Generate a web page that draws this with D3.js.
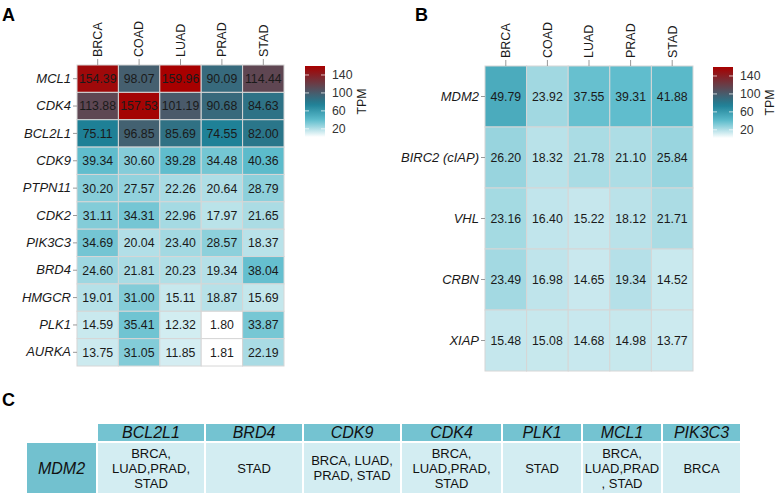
<!DOCTYPE html>
<html>
<head>
<meta charset="utf-8">
<script src="https://cdn.jsdelivr.net/npm/d3@7"></script>
<style>
  body { margin: 0; background: #fff; }
  text { font-family: "Liberation Sans", Arial, sans-serif; }
</style>
</head>
<body>
<script>
// data
var cancers = ["BRCA", "COAD", "LUAD", "PRAD", "STAD"];

var genesA = ["MCL1", "CDK4", "BCL2L1", "CDK9", "PTPN11", "CDK2", "PIK3C3", "BRD4", "HMGCR", "PLK1", "AURKA"];
var tpmA = [
  [154.39, 98.07, 159.96, 90.09, 114.44],
  [113.88, 157.53, 101.19, 90.68, 84.63],
  [75.11, 96.85, 85.69, 74.55, 82.00],
  [39.34, 30.60, 39.28, 34.48, 40.36],
  [30.20, 27.57, 22.26, 20.64, 28.79],
  [31.11, 34.31, 22.96, 17.97, 21.65],
  [34.69, 20.04, 23.40, 28.57, 18.37],
  [24.60, 21.81, 20.23, 19.34, 38.04],
  [19.01, 31.00, 15.11, 18.87, 15.69],
  [14.59, 35.41, 12.32, 1.80, 33.87],
  [13.75, 31.05, 11.85, 1.81, 22.19]
];

var genesB = ["MDM2", "BIRC2 (cIAP)", "VHL", "CRBN", "XIAP"];
var tpmB = [
  [49.79, 23.92, 37.55, 39.31, 41.88],
  [26.20, 18.32, 21.78, 21.10, 25.84],
  [23.16, 16.40, 15.22, 18.12, 21.71],
  [23.49, 16.98, 14.65, 19.34, 14.52],
  [15.48, 15.08, 14.68, 14.98, 13.77]
];

var legendTicks = [20, 60, 100, 140];
var tpmMin = 1.8, tpmMax = 160;

var tableRowGene = "MDM2";
var tablePartners = ["BCL2L1", "BRD4", "CDK9", "CDK4", "PLK1", "MCL1", "PIK3C3"];
var tableCancers = [
  ["BRCA,", "LUAD,PRAD,", "STAD"],
  ["STAD"],
  ["BRCA, LUAD,", "PRAD, STAD"],
  ["BRCA,", "LUAD,PRAD,", "STAD"],
  ["STAD"],
  ["BRCA,", "LUAD,PRAD", ", STAD"],
  ["BRCA"]
];

var width = 780, height = 494;

var svg = d3.select("body").append("svg")
    .attr("width", width)
    .attr("height", height);

var color = d3.scaleLinear()
    .domain([tpmMin, 40, 75, 100, tpmMax])
    .range(["#ffffff", "#5dbccc", "#1e8096", "#485c6c", "#a80000"])
    .clamp(true);

function panelLabel(t, x, y) {
  svg.append("text")
      .attr("x", x).attr("y", y)
      .attr("font-size", 18)
      .attr("font-weight", "bold")
      .attr("fill", "#000")
      .text(t);
}

function heatmap(genes, values, xr, yr) {
  var x = d3.scaleBand().domain(cancers).range(xr);
  var y = d3.scaleBand().domain(genes).range(yr);
  var g = svg.append("g");

  var cells = [];
  genes.forEach(function(gene, i) {
    cancers.forEach(function(c, j) {
      cells.push({gene: gene, cancer: c, v: values[i][j]});
    });
  });

  g.selectAll("rect")
    .data(cells).enter()
    .append("rect")
    .attr("x", function(d) { return x(d.cancer); })
    .attr("y", function(d) { return y(d.gene); })
    .attr("width", x.bandwidth())
    .attr("height", y.bandwidth())
    .attr("fill", function(d) { return color(d.v); })
    .attr("stroke", "#d6d6d6")
    .attr("stroke-width", 1);

  g.selectAll("text.val")
    .data(cells).enter()
    .append("text")
    .attr("class", "val")
    .attr("x", function(d) { return x(d.cancer) + x.bandwidth() / 2; })
    .attr("y", function(d) { return y(d.gene) + y.bandwidth() / 2; })
    .attr("dy", "0.36em")
    .attr("text-anchor", "middle")
    .attr("font-size", 12.3)
    .attr("fill", "#1a1a1a")
    .text(function(d) { return d.v.toFixed(2); });

  // gene names on the left, italic
  var yAxis = g.append("g")
      .attr("transform", "translate(" + xr[0] + ",0)")
      .call(d3.axisLeft(y).tickSize(4).tickPadding(2));
  yAxis.select(".domain").remove();
  yAxis.selectAll("line").attr("stroke", "#999");
  yAxis.selectAll("text")
      .attr("font-size", 13)
      .attr("font-style", "italic")
      .attr("font-family", "Liberation Sans, Arial, sans-serif")
      .attr("fill", "#1a1a1a");

  // cancer types on top, turned upright
  var xAxis = g.append("g")
      .attr("transform", "translate(0," + yr[0] + ")")
      .call(d3.axisTop(x).tickSize(6).tickPadding(2));
  xAxis.select(".domain").remove();
  xAxis.selectAll("line").attr("stroke", "#999");
  xAxis.selectAll("text")
      .attr("font-size", 12.5)
      .attr("font-family", "Liberation Sans, Arial, sans-serif")
      .attr("fill", "#1a1a1a")
      .attr("transform", "rotate(-90)")
      .attr("text-anchor", "start")
      .attr("x", 8)
      .attr("y", 0)
      .attr("dy", "0.35em");
}

var gradId = 0;
function legend(x0, y0, y1) {
  var id = "grad" + (gradId++);
  var grad = svg.append("defs").append("linearGradient")
      .attr("id", id)
      .attr("x1", 0).attr("y1", 1).attr("x2", 0).attr("y2", 0);
  d3.range(0, 1.0001, 0.05).forEach(function(t) {
    grad.append("stop")
      .attr("offset", t)
      .attr("stop-color", color(tpmMin + t * (tpmMax - tpmMin)));
  });

  var ly = d3.scaleLinear().domain([tpmMin, tpmMax]).range([y1, y0]);
  var bw = 20;
  svg.append("rect")
      .attr("x", x0).attr("y", y0)
      .attr("width", bw).attr("height", y1 - y0)
      .attr("fill", "url(#" + id + ")");

  var lg = svg.append("g");
  legendTicks.forEach(function(t) {
    lg.append("line")
      .attr("x1", x0).attr("x2", x0 + 4)
      .attr("y1", ly(t)).attr("y2", ly(t))
      .attr("stroke", "#fff").attr("stroke-opacity", 0.7);
    lg.append("line")
      .attr("x1", x0 + bw - 4).attr("x2", x0 + bw)
      .attr("y1", ly(t)).attr("y2", ly(t))
      .attr("stroke", "#fff").attr("stroke-opacity", 0.7);
    lg.append("text")
      .attr("x", x0 + bw + 7)
      .attr("y", ly(t))
      .attr("dy", "0.36em")
      .attr("font-size", 12.3)
      .attr("fill", "#333")
      .text(t);
  });
  svg.append("text")
      .attr("transform", "translate(" + (x0 + bw + 41) + "," + ((y0 + y1) / 2) + ") rotate(-90)")
      .attr("text-anchor", "middle")
      .attr("font-size", 12.3)
      .attr("fill", "#1a1a1a")
      .text("TPM");
}

// panel A
panelLabel("A", 2, 21);
heatmap(genesA, tpmA, [77, 284], [65, 366]);
legend(305, 66, 137);

// panel B
panelLabel("B", 415, 21);
heatmap(genesB, tpmB, [485, 693], [66, 371]);
legend(713, 67, 138);

// panel C table
panelLabel("C", 2, 406);

var colWidths = [108, 98, 98, 101, 80, 80, 79];
var tx0 = 97, headTop = 423, headH = 19, bodyH = 52, firstW = 71;
var edges = [tx0];
colWidths.forEach(function(w, i) { edges.push(edges[i] + w); });
var tx = d3.scaleOrdinal().domain(tablePartners).range(edges.slice(0, -1));

var tg = svg.append("g");
tg.append("rect")
    .attr("x", tx0 - firstW).attr("y", headTop + headH)
    .attr("width", firstW).attr("height", bodyH)
    .attr("fill", "#72c1cf")
    .attr("stroke", "#fff").attr("stroke-width", 2);
tg.append("text")
    .attr("x", tx0 - firstW / 2).attr("y", headTop + headH + bodyH / 2)
    .attr("dy", "0.36em")
    .attr("text-anchor", "middle")
    .attr("font-size", 16)
    .attr("font-style", "italic")
    .attr("fill", "#111")
    .text(tableRowGene);

tablePartners.forEach(function(p, i) {
  var x = tx(p), w = colWidths[i];
  tg.append("rect")
      .attr("x", x).attr("y", headTop)
      .attr("width", w).attr("height", headH)
      .attr("fill", "#74c3d1")
      .attr("stroke", "#fff").attr("stroke-width", 2);
  tg.append("text")
      .attr("x", x + w / 2).attr("y", headTop + headH / 2)
      .attr("dy", "0.36em")
      .attr("text-anchor", "middle")
      .attr("font-size", 16)
      .attr("font-style", "italic")
      .attr("fill", "#111")
      .text(p);
  tg.append("rect")
      .attr("x", x).attr("y", headTop + headH)
      .attr("width", w).attr("height", bodyH)
      .attr("fill", "#d3edf2")
      .attr("stroke", "#fff").attr("stroke-width", 2);
  var lines = tableCancers[i];
  var lh = 15;
  var cy = headTop + headH + bodyH / 2;
  lines.forEach(function(l, k) {
    tg.append("text")
      .attr("x", x + w / 2)
      .attr("y", cy + (k - (lines.length - 1) / 2) * lh)
      .attr("dy", "0.36em")
      .attr("text-anchor", "middle")
      .attr("font-size", 13)
      .attr("fill", "#111")
      .text(l);
  });
});
</script>
</body>
</html>
